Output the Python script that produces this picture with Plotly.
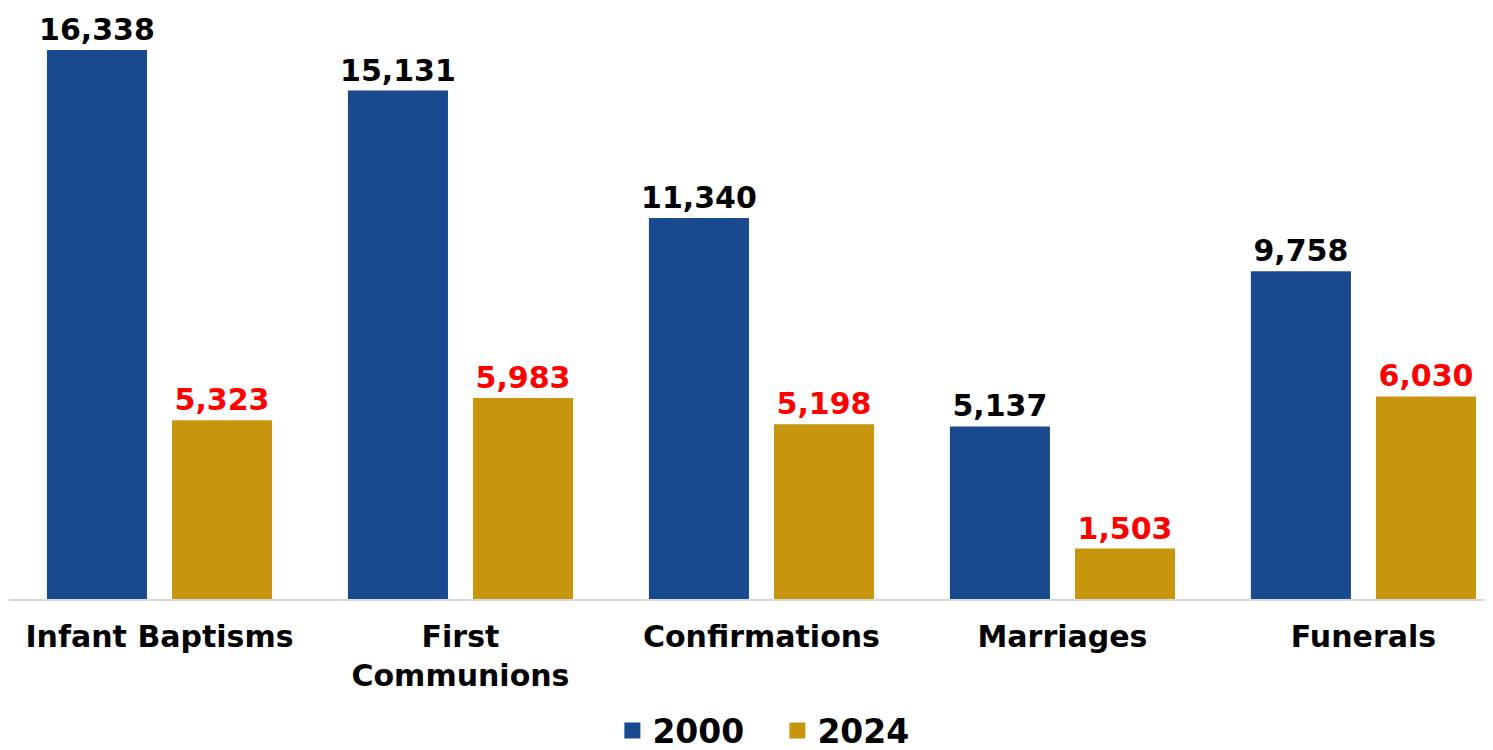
import plotly.graph_objects as go

categories = ["Infant Baptisms", "First<br>Communions", "Confirmations", "Marriages", "Funerals"]
years = ["2000", "2024"]
values_2000 = [16338, 15131, 11340, 5137, 9758]
values_2024 = [5323, 5983, 5198, 1503, 6030]

BLUE = "#194A8D"
GOLD = "#C8950F"
FONT = "Verdana, DejaVu Sans, sans-serif"

fig = go.Figure()
for vals, color, txtcolor in [(values_2000, BLUE, "black"), (values_2024, GOLD, "#FF0000")]:
    fig.add_trace(go.Bar(
        x=categories, y=vals, showlegend=False,
        marker=dict(color=color, line=dict(width=0)),
        texttemplate="%{y:,}", textposition="outside", constraintext="none",
        textfont=dict(color=txtcolor, size=30, family=FONT, weight="bold"),
        cliponaxis=False,
    ))

# legend entries with bigger square swatches
for name, color in zip(years, [BLUE, GOLD]):
    fig.add_trace(go.Scatter(
        x=[None], y=[None], mode="markers", name=name,
        marker=dict(symbol="square", size=20, color=color),
    ))

fig.update_layout(
    width=1493, height=750,
    barmode="group", bargap=0.169, bargroupgap=0.2,
    paper_bgcolor="white", plot_bgcolor="white",
    font=dict(family=FONT, color="black", weight="bold"),
    margin=dict(l=1, r=0, t=0, b=159, autoexpand=False),
    showlegend=True,
    legend=dict(
        orientation="h", x=0.515, xanchor="center", y=-0.175, yanchor="top",
        font=dict(size=33, family=FONT, weight="bold"),
        itemwidth=30, traceorder="normal", itemsizing="trace",
        entrywidth=120, entrywidthmode="pixels",
    ),
)
fig.update_xaxes(
    range=[-0.5, 4.457], showline=True, linecolor="#D9D9D9", linewidth=2,
    ticks="outside", ticklen=10, tickcolor="rgba(0,0,0,0)",
    tickfont=dict(size=30, family=FONT, weight="bold"),
    showgrid=False, automargin=False,
)
fig.update_yaxes(range=[0, 17589], visible=False, showgrid=False, zeroline=False)

fig.write_html("out.html")
